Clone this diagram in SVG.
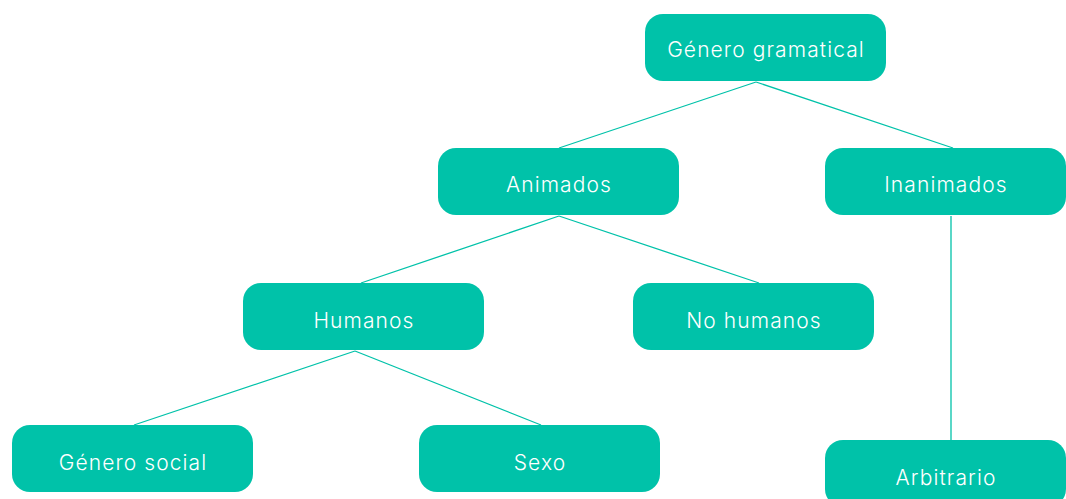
<svg xmlns="http://www.w3.org/2000/svg" width="1066" height="499" viewBox="0 0 1066 499">
<style>
.n{fill:#00c2a9}
.t{fill:#ffffff;font-family:Inter,"Liberation Sans",sans-serif;font-size:21px;font-weight:300;text-anchor:middle;letter-spacing:1.1px}
.c{stroke:#00c2a9;stroke-width:1.3;fill:none}
</style>
<rect width="1066" height="499" fill="#ffffff"/>
<g id="connectors">
<line class="c" x1="756" y1="82" x2="559" y2="148"/>
<line class="c" x1="756" y1="82" x2="953" y2="148"/>
<line class="c" x1="559" y1="216" x2="361" y2="283"/>
<line class="c" x1="559" y1="216" x2="759" y2="283"/>
<line class="c" x1="355" y1="351" x2="134" y2="425"/>
<line class="c" x1="355" y1="351" x2="541" y2="425"/>
<line class="c" x1="951" y1="216" x2="951" y2="440"/>
</g>
<g id="genero-gramatical"><rect class="n" x="645" y="14" width="241" height="67" rx="18"/><text class="t" x="766" y="57">Género gramatical</text></g>
<g id="animados"><rect class="n" x="438" y="148" width="241" height="67" rx="18"/><text class="t" x="559" y="192">Animados</text></g>
<g id="inanimados"><rect class="n" x="825" y="148" width="241" height="67" rx="18"/><text class="t" x="946" y="192">Inanimados</text></g>
<g id="humanos"><rect class="n" x="243" y="283" width="241" height="67" rx="18"/><text class="t" x="364" y="328">Humanos</text></g>
<g id="no-humanos"><rect class="n" x="633" y="283" width="241" height="67" rx="18"/><text class="t" x="754" y="328">No humanos</text></g>
<g id="genero-social"><rect class="n" x="12" y="425" width="241" height="67" rx="18"/><text class="t" x="133" y="470">Género social</text></g>
<g id="sexo"><rect class="n" x="419" y="425" width="241" height="67" rx="18"/><text class="t" x="540" y="470">Sexo</text></g>
<g id="arbitrario"><rect class="n" x="825" y="440" width="241" height="67" rx="18"/><text class="t" x="946" y="485">Arbitrario</text></g>
</svg>
